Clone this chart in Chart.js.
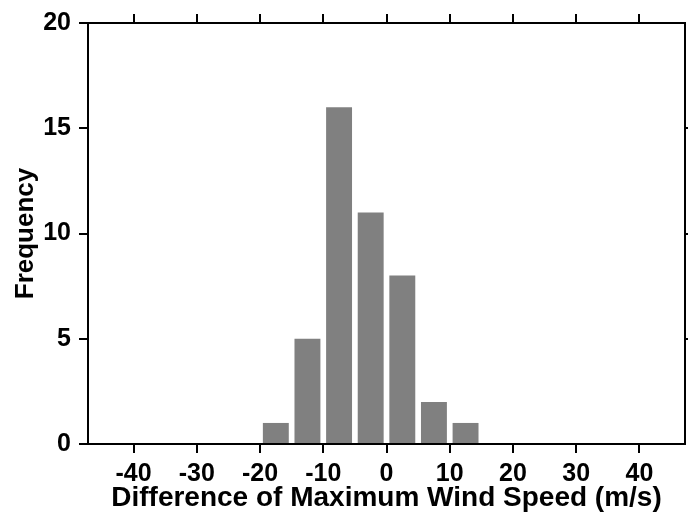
<!DOCTYPE html>
<html>
<head>
<meta charset="utf-8">
<script src="https://cdn.jsdelivr.net/npm/chart.js@4/dist/chart.umd.min.js"></script>
<style>
  html, body { margin: 0; padding: 0; background: #ffffff; }
  #wrap { width: 688px; height: 521px; position: relative; }
</style>
</head>
<body>
<div id="wrap"><canvas id="c" width="688" height="521"></canvas></div>
<script>
// Histogram bin centres (m/s) and frequencies
const binCenters = [-17.5, -12.5, -7.5, -2.5, 2.5, 7.5, 12.5];
const frequencies = [1, 5, 16, 11, 8, 2, 1];
const xTickValues = [-40, -30, -20, -10, 0, 10, 20, 30, 40];
const yTickValues = [0, 5, 10, 15, 20];
const xTitle = 'Difference of Maximum Wind Speed (m/s)';
const yTitle = 'Frequency';

const FONT = '"Liberation Sans", Arial, sans-serif';
const X_MIN = -47.2, X_MAX = 47.2, Y_MIN = 0, Y_MAX = 20;
const TICK_LEN = 9;

function fixTicks(values) {
  return function (scale) { scale.ticks = values.map(v => ({ value: v })); };
}
function fixSize(prop, size) {
  return function (scale) { scale[prop] = size; };
}
function axisCommon() {
  return {
    grid: { display: true, offset: false, drawOnChartArea: false, drawTicks: true, tickLength: TICK_LEN,
            color: '#000', lineWidth: 2, tickColor: '#000', tickWidth: 2 },
    border: { display: true, color: '#000', width: 2 }
  };
}

// Make sure the outward tick marks of the bottom axis are drawn at the scale's tick positions
const bottomTickMarks = {
  id: 'bottomTickMarks',
  afterDraw(chart) {
    const s = chart.scales.xb;
    const ctx = chart.ctx;
    ctx.save();
    ctx.strokeStyle = '#000';
    ctx.lineWidth = 2;
    ctx.beginPath();
    s.ticks.forEach(t => {
      const px = Math.round(s.getPixelForValue(t.value));
      ctx.moveTo(px, s.top);
      ctx.lineTo(px, s.top + TICK_LEN);
    });
    ctx.stroke();
    ctx.restore();
  }
};

new Chart(document.getElementById('c'), {
  type: 'bar',
  data: {
    datasets: [{
      xAxisID: 'xb',
      yAxisID: 'y',
      data: binCenters.map((x, i) => ({ x: x, y: frequencies[i] })),
      backgroundColor: '#808080',
      borderWidth: 0,
      barPercentage: 0.82,
      categoryPercentage: 1.0
    }]
  },
  plugins: [bottomTickMarks],
  options: {
    responsive: false,
    animation: false,
    events: [],
    layout: { padding: 0, autoPadding: false },
    plugins: { legend: { display: false }, tooltip: { enabled: false } },
    scales: {
      xb: Object.assign(axisCommon(), {
        axis: 'x', type: 'linear', position: 'bottom', min: X_MIN, max: X_MAX, offset: false,
        afterBuildTicks: fixTicks(xTickValues),
        afterFit: fixSize('height', 77),
        ticks: { color: '#000', font: { family: FONT, size: 25, weight: 'bold' }, padding: 6, maxRotation: 0, autoSkip: false },
        title: { display: true, text: xTitle, color: '#000', font: { family: FONT, size: 28, weight: 'bold' }, padding: { top: 0, bottom: 6 } }
      }),
      xt: Object.assign(axisCommon(), {
        axis: 'x', type: 'linear', position: 'top', min: X_MIN, max: X_MAX, offset: false,
        afterBuildTicks: fixTicks(xTickValues),
        afterFit: fixSize('height', 20),
        ticks: { display: false }
      }),
      y: Object.assign(axisCommon(), {
        type: 'linear', position: 'left', min: Y_MIN, max: Y_MAX,
        afterBuildTicks: fixTicks(yTickValues),
        afterFit: fixSize('width', 88),
        ticks: { color: '#000', font: { family: FONT, size: 25, weight: 'bold' }, padding: 8 },
        title: { display: true, text: yTitle, color: '#000', font: { family: FONT, size: 26, weight: 'bold' }, padding: { top: 10, bottom: 0 } }
      }),
      y2: Object.assign(axisCommon(), {
        type: 'linear', position: 'right', min: Y_MIN, max: Y_MAX,
        afterBuildTicks: fixTicks(yTickValues.slice(1, -1)),
        afterFit: fixSize('width', 3),
        ticks: { display: false }
      })
    }
  }
});
</script>
</body>
</html>
